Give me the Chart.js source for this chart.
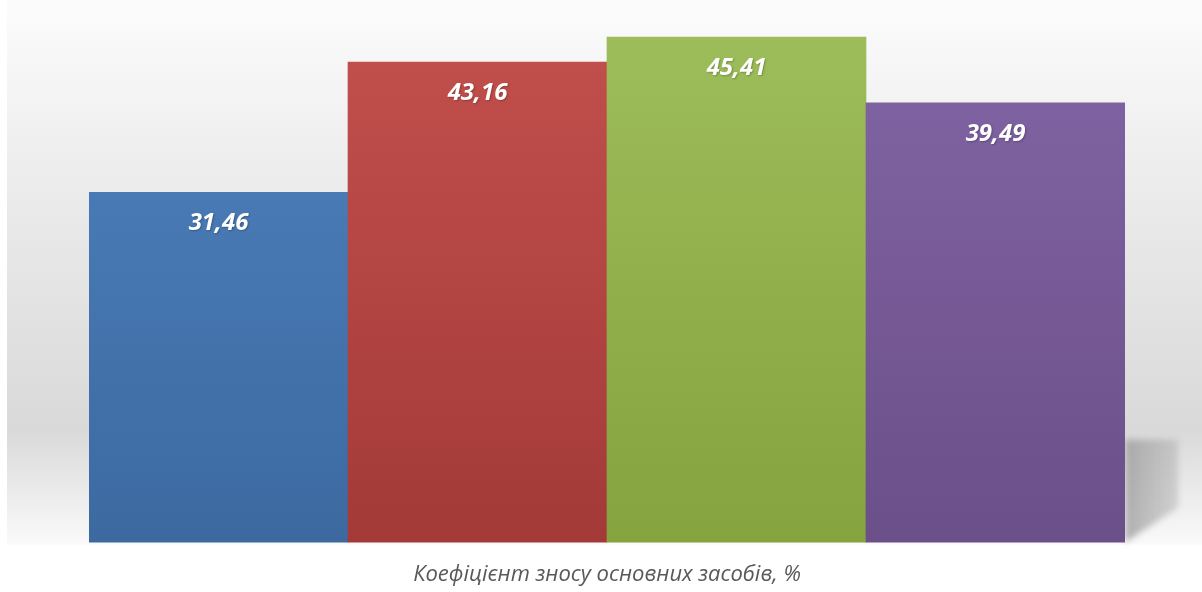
<!DOCTYPE html>
<html>
<head>
<meta charset="utf-8">
<script src="https://cdn.jsdelivr.net/npm/chart.js@4.4.1/dist/chart.umd.min.js"></script>
<style>
  html, body { margin: 0; padding: 0; background: #fff; }
  #wrap { width: 1202px; height: 592px; }
</style>
</head>
<body>
<div id="wrap"><canvas id="chart" width="1202" height="592"></canvas></div>
<script>
// data
const categories = ['1', '2', '3', '4'];
const values = [31.46, 43.16, 45.41, 39.49];
const axisTitle = 'Коефіцієнт зносу основних засобів, %';

// bar colours: top / bottom of gradient
const topColors = ['#5083c0', '#c4514e', '#9fbf5c', '#8366a6'];
const bottomColors = ['#3c69a0', '#a33a38', '#85a33f', '#6b4f89'];

// background wall + shadow behind last bar
const backdrop = {
    id: 'backdrop',
    beforeDraw(chart) {
        const ctx = chart.ctx;
        const area = chart.chartArea;
        ctx.save();
        ctx.fillStyle = '#ffffff';
        ctx.fillRect(0, 0, chart.width, chart.height);
        const g = ctx.createLinearGradient(0, 0, 0, area.bottom + 2);
        g.addColorStop(0, '#fcfcfc');
        g.addColorStop(0.33, '#ececec');
        g.addColorStop(0.79, '#d9d9d9');
        g.addColorStop(1, '#fafafa');
        ctx.fillStyle = g;
        ctx.fillRect(7, 0, chart.width - 7, area.bottom + 2);
        ctx.restore();
    },
    beforeDatasetsDraw(chart) {
        const ctx = chart.ctx;
        const area = chart.chartArea;
        const bars = chart.getDatasetMeta(0).data;
        const last = bars[bars.length - 1];
        const x0 = last.x + last.width / 2;
        const top = area.bottom - 103;
        ctx.save();
        ctx.filter = 'blur(3px)';
        const g = ctx.createLinearGradient(x0, 0, x0 + 53, 0);
        g.addColorStop(0, 'rgba(150,150,150,0.75)');
        g.addColorStop(1, 'rgba(170,170,170,0.45)');
        ctx.fillStyle = g;
        ctx.beginPath();
        ctx.moveTo(x0, top);
        ctx.lineTo(x0 + 53, top);
        ctx.lineTo(x0 + 53, area.bottom - 35);
        ctx.lineTo(x0, area.bottom);
        ctx.closePath();
        ctx.fill();
        ctx.restore();
    }
};

// value labels inside bars
const valueLabels = {
    id: 'valueLabels',
    afterDatasetsDraw(chart) {
        const ctx = chart.ctx;
        const meta = chart.getDatasetMeta(0);
        ctx.save();
        ctx.font = 'italic bold 24px "Open Sans", sans-serif';
        ctx.textAlign = 'center';
        ctx.textBaseline = 'middle';
        ctx.fillStyle = '#ffffff';
        ctx.shadowColor = 'rgba(0,0,0,0.25)';
        ctx.shadowBlur = 2;
        ctx.shadowOffsetX = 1;
        ctx.shadowOffsetY = 1;
        meta.data.forEach((bar, i) => {
            const text = values[i].toFixed(2).replace('.', ',');
            ctx.fillText(text, bar.x, bar.y + 31);
        });
        ctx.restore();
    }
};

const ctx = document.getElementById('chart').getContext('2d');
const chart = new Chart(ctx, {
    type: 'bar',
    data: {
        labels: categories,
        datasets: [{
            data: values,
            borderWidth: 0,
            backgroundColor: (c) => {
                const area = c.chart.chartArea;
                if (!area) return topColors[c.dataIndex];
                const g = c.chart.ctx.createLinearGradient(0, area.top, 0, area.bottom);
                g.addColorStop(0, topColors[c.dataIndex]);
                g.addColorStop(1, bottomColors[c.dataIndex]);
                return g;
            },
            categoryPercentage: 1,
            barPercentage: 1
        }]
    },
    options: {
        responsive: false,
        animation: false,
        layout: { padding: { left: 89, right: 77, top: 0, bottom: 0 } },
        plugins: {
            legend: { display: false },
            tooltip: { enabled: false }
        },
        scales: {
            x: {
                grid: { display: false },
                border: { display: false },
                ticks: { display: false },
                title: {
                    display: true,
                    text: axisTitle,
                    color: '#595959',
                    font: { family: '"Open Sans", sans-serif', size: 22, style: 'italic' },
                    padding: { top: 11, bottom: 4 }
                }
            },
            y: {
                display: false,
                min: 0,
                max: 48.73
            }
        }
    },
    plugins: [backdrop, valueLabels]
});
</script>
</body>
</html>
